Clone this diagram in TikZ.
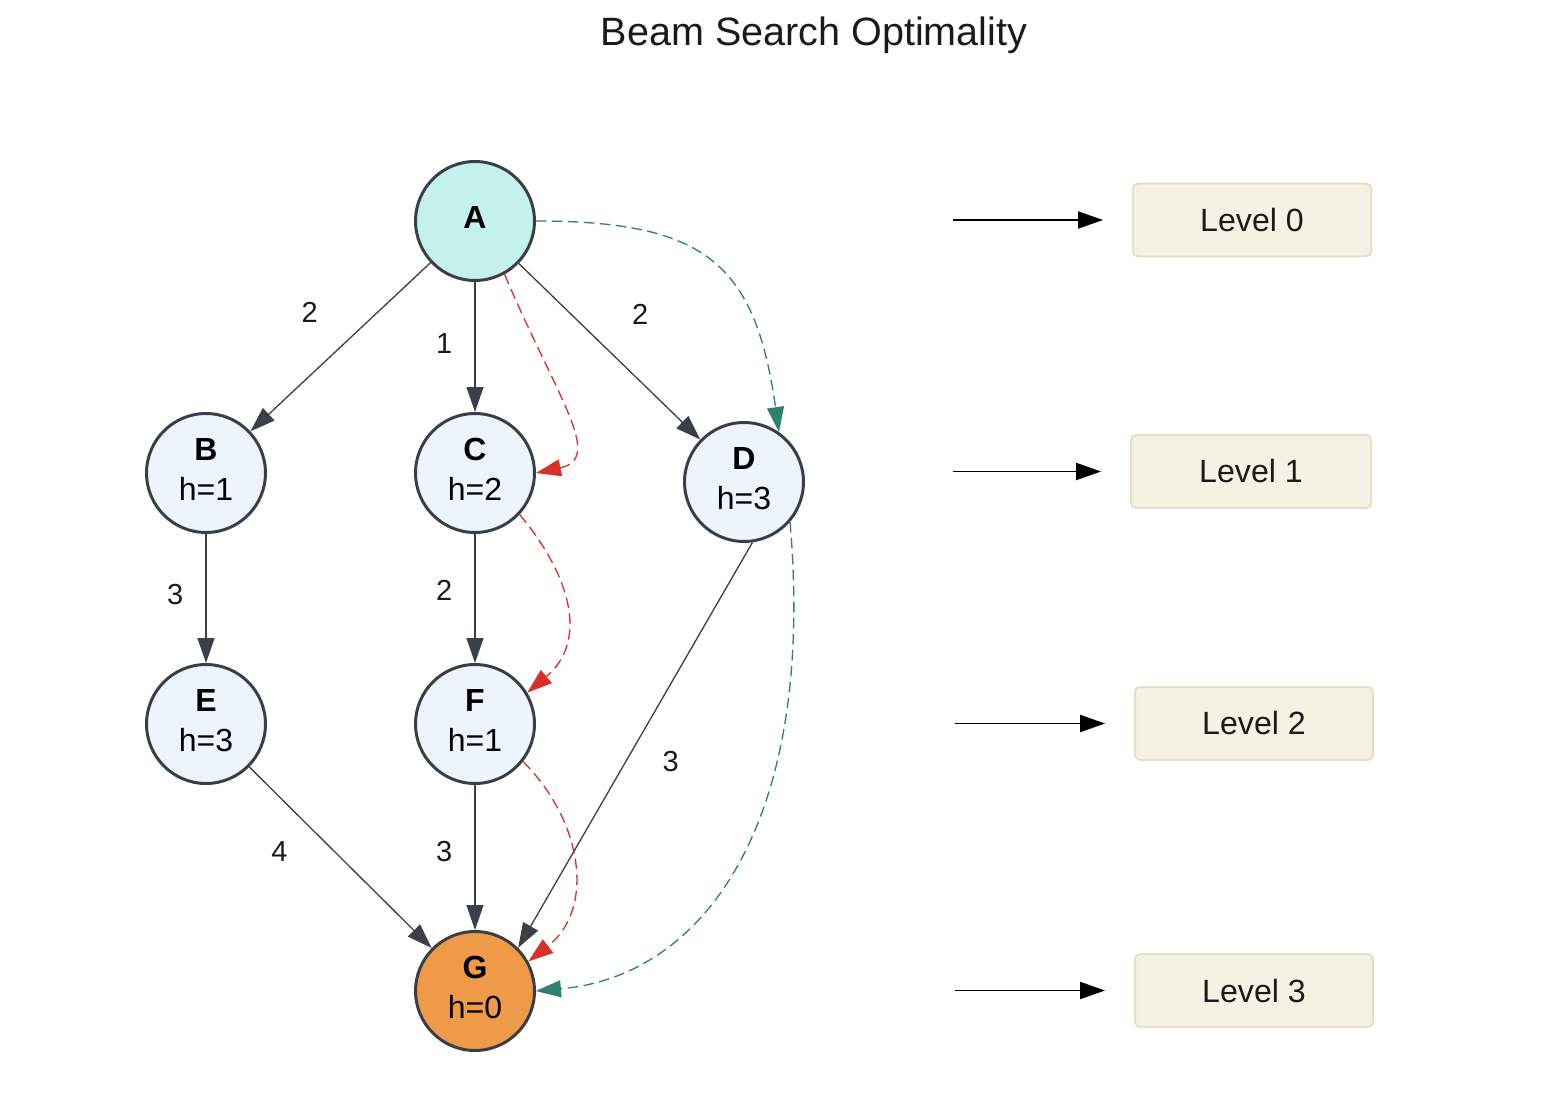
\documentclass[tikz,border=0pt]{standalone}
\usepackage{fontspec}
\setmainfont{Liberation Sans}
\usetikzlibrary{arrows.meta,positioning}

\definecolor{nodeedge}{HTML}{3A3F47}
\definecolor{edgegray}{HTML}{3B4048}
\definecolor{startfill}{HTML}{C4F1EB}
\definecolor{statefill}{HTML}{EDF4FE}
\definecolor{goalfill}{HTML}{EE9A48}
\definecolor{pathred}{HTML}{D93127}
\definecolor{pathgreen}{HTML}{2F8070}
\definecolor{levelfill}{HTML}{F5F2E4}
\definecolor{leveledge}{HTML}{E4DFC6}
\definecolor{inktext}{HTML}{1A1A1A}

\tikzset{
  state/.style={circle, draw=nodeedge, fill=statefill, line width=1.7pt,
    minimum size=2.38cm, inner sep=0pt, align=center, text=black, text depth=4pt,
    font=\fontsize{18.2}{22.4}\selectfont},
  cost/.style={inner sep=0pt, text=inktext, font=\fontsize{16.5}{20}\selectfont},
  tree/.style={draw=edgegray, line width=0.75pt,
    -{Triangle[length=0.5cm,width=0.34cm]}},
  redpath/.style={draw=pathred, line width=0.75pt, dash pattern=on 0.21cm off 0.11cm,
    -{Triangle[length=0.5cm,width=0.34cm]}},
  greenpath/.style={draw=pathgreen, line width=0.75pt, dash pattern=on 0.21cm off 0.11cm,
    -{Triangle[length=0.5cm,width=0.34cm]}},
  levelbox/.style={draw=leveledge, fill=levelfill, line width=1.1pt,
    rounded corners=0.1cm, minimum width=4.76cm, minimum height=1.46cm,
    text=inktext, font=\fontsize{18.3}{22}\selectfont},
  levelarrow/.style={-{Triangle[length=0.5cm,width=0.34cm]}, line width=1.1pt,
    shorten >=0.58cm}
}

\begin{document}
\begin{tikzpicture}[x=0.02cm, y=-0.02cm]
\useasboundingbox (0,0) rectangle (1542,1112);

\node[anchor=base, text=inktext, font=\fontsize{22.5}{27}\selectfont] (title) at (814,45) {Beam Search Optimality};

% search tree
\node[state, fill=startfill] (a) at (475,221) {\textbf{A}};
\node[state] (b) at (206,473) {\textbf{B}\\h=1};
\node[state] (c) at (475,473) {\textbf{C}\\h=2};
\node[state] (d) at (744,482) {\textbf{D}\\h=3};
\node[state] (e) at (206,724) {\textbf{E}\\h=3};
\node[state] (f) at (475,724) {\textbf{F}\\h=1};
\node[state, fill=goalfill] (g) at (475,991) {\textbf{G}\\h=0};

\draw[tree] (a) -- node[cost, above left=0.48cm and 0.44cm] {2} (b);
\draw[tree] (a) -- node[cost, pos=0.47, left=0.44cm] {1} (c);
\draw[tree] (a) -- node[cost, above right=0.52cm and 0.44cm] {2} (d);
\draw[tree] (b) -- node[cost, pos=0.47, left=0.44cm] {3} (e);
\draw[tree] (c) -- node[cost, pos=0.44, left=0.44cm] {2} (f);
\draw[tree] (d.-82) -- node[cost, pos=0.54, right=0.72cm] {3} (g.45);
\draw[tree] (e) -- node[cost, pos=0.465, left=0.92cm] {4} (g);
\draw[tree] (f) -- node[cost, pos=0.46, left=0.44cm] {3} (g);

% beam paths
\draw[redpath] (a.-61) to[out=-67, in=12, out distance=2.7cm, in distance=1.4cm] (c.0);
\draw[redpath] (c.-43) to[out=-50, in=40, out distance=1.6cm, in distance=1.6cm] (f.31);
\draw[redpath] (f.-38) to[out=-45, in=38, out distance=1.7cm, in distance=1.7cm] (g.29);
\draw[greenpath] (a.0) to[out=0, in=98, out distance=3.4cm, in distance=3.4cm] (d.55);
\draw[greenpath] (d.-41) to[out=-85, in=5, out distance=6cm, in distance=3.4cm] (g.0);

% levels
\node[levelbox] (lv0) at (1252,220) {Level 0};
\node[levelbox, minimum width=4.8cm] (lv1) at (1251,471.5) {Level 1};
\node[levelbox] (lv2) at (1254,723.5) {Level 2};
\node[levelbox] (lv3) at (1254,990.5) {Level 3};

\coordinate (l0) at (953,220);
\coordinate (l1) at (953,471.5);
\coordinate (l2) at (955,723.5);
\coordinate (l3) at (955,990.5);

\draw[levelarrow] (l0) -- (lv0);
\draw[levelarrow] (l1) -- (lv1);
\draw[levelarrow] (l2) -- (lv2);
\draw[levelarrow] (l3) -- (lv3);
\end{tikzpicture}
\end{document}
